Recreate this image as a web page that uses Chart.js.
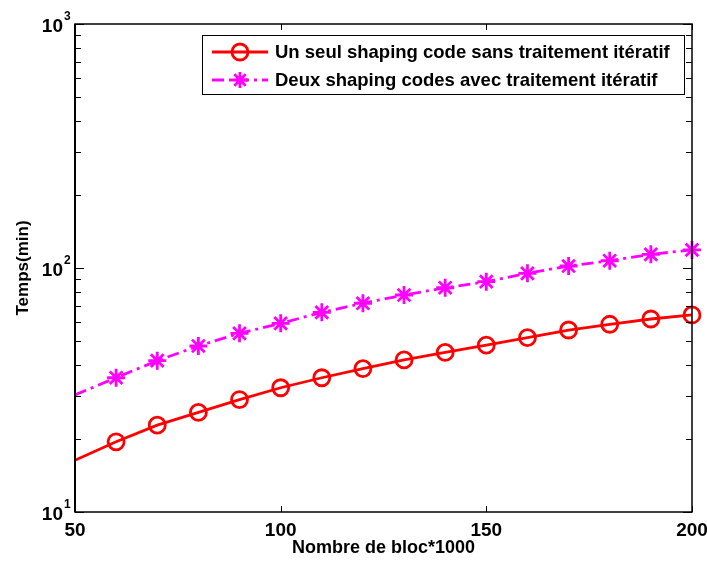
<!DOCTYPE html>
<html>
<head>
<meta charset="utf-8">
<script src="https://cdn.jsdelivr.net/npm/chart.js@4.4.0/dist/chart.umd.min.js"></script>
<style>
  html, body { margin: 0; padding: 0; background: #fff; }
  #wrap { width: 707px; height: 562px; }
</style>
</head>
<body>
<div id="wrap"><canvas id="chart" width="707" height="562"></canvas></div>
<script>
// Nombre de bloc (x1000)
const blocs = [50, 60, 70, 80, 90, 100, 110, 120, 130, 140, 150, 160, 170, 180, 190, 200];
// Temps (min)
const tempsSansIteratif = [16.3, 19.4, 22.7, 25.6, 28.9, 32.3, 35.5, 38.7, 42.0, 45.1, 48.3, 51.8, 55.7, 58.8, 61.8, 64.2];
const tempsAvecIteratif = [30.2, 35.5, 41.7, 47.9, 54.0, 59.3, 65.8, 71.7, 77.5, 83.0, 87.9, 95.1, 101.9, 107.1, 113.8, 118.6];

const xTicks = [50, 100, 150, 200];
const yMajor = [10, 100, 1000];
const yMinor = [20, 30, 40, 50, 60, 70, 80, 90, 200, 300, 400, 500, 600, 700, 800, 900];

const labels = [
  'Un seul shaping code sans traitement itératif',
  'Deux shaping codes avec traitement itératif'
];

const FONT = "'Liberation Sans', Arial, sans-serif";

function toPoints(xs, ys) {
  return xs.map((x, i) => ({ x: x, y: ys[i] }));
}

// axes "à la Matlab" : cadre, graduations intérieures, 10^n
const matlabAxes = {
  id: 'matlabAxes',
  afterDraw(chart) {
    const ctx = chart.ctx;
    const a = chart.chartArea;
    const x = chart.scales.x;
    const y = chart.scales.y;
    ctx.save();
    ctx.strokeStyle = '#000';
    ctx.lineWidth = 1.5;
    ctx.strokeRect(a.left, a.top, a.right - a.left, a.bottom - a.top);
    ctx.lineWidth = 2;
    ctx.beginPath();
    ctx.moveTo(a.left, a.top);
    ctx.lineTo(a.left, a.bottom);
    ctx.stroke();

    ctx.lineWidth = 1;
    ctx.beginPath();
    xTicks.forEach(v => {
      const px = Math.round(x.getPixelForValue(v)) + 0.5;
      ctx.moveTo(px, a.bottom); ctx.lineTo(px, a.bottom - 6);
      ctx.moveTo(px, a.top); ctx.lineTo(px, a.top + 6);
    });
    yMajor.forEach(v => {
      const py = Math.round(y.getPixelForValue(v)) + 0.5;
      ctx.moveTo(a.left, py); ctx.lineTo(a.left + 9, py);
      ctx.moveTo(a.right, py); ctx.lineTo(a.right - 9, py);
    });
    yMinor.forEach(v => {
      const py = Math.round(y.getPixelForValue(v)) + 0.5;
      ctx.moveTo(a.left, py); ctx.lineTo(a.left + 6, py);
      ctx.moveTo(a.right, py); ctx.lineTo(a.right - 6, py);
    });
    ctx.stroke();

    ctx.fillStyle = '#000';
    ctx.textBaseline = 'middle';
    yMajor.forEach(v => {
      const py = y.getPixelForValue(v);
      const exp = String(Math.round(Math.log10(v)));
      ctx.font = 'bold 19px ' + FONT;
      ctx.textAlign = 'right';
      ctx.fillText('10', a.left - 12, py + 3);
      ctx.font = 'bold 12px ' + FONT;
      ctx.textAlign = 'left';
      ctx.fillText(exp, a.left - 11, py - 7);
    });

    // légende
    const lw = 482, lh = 59;
    const lx = a.right - 8 - lw, ly = a.top + 11;
    ctx.fillStyle = '#fff';
    ctx.fillRect(lx, ly, lw, lh);
    ctx.lineWidth = 1;
    ctx.strokeStyle = '#000';
    ctx.strokeRect(lx + 0.5, ly + 0.5, lw, lh);
    chart.data.datasets.forEach((ds, i) => {
      const ry = ly + 17 + i * 28;
      ctx.save();
      ctx.strokeStyle = ds.borderColor;
      ctx.lineWidth = ds.borderWidth;
      ctx.setLineDash(ds.borderDash || []);
      ctx.beginPath();
      ctx.moveTo(lx + 10, ry);
      ctx.lineTo(lx + 66, ry);
      ctx.stroke();
      ctx.setLineDash([]);
      ctx.lineWidth = ds.pointBorderWidth;
      ctx.fillStyle = 'rgba(0,0,0,0)';
      Chart.helpers.drawPoint(ctx, {
        pointStyle: ds.pointStyle, radius: 8, borderWidth: ds.pointBorderWidth, rotation: 0
      }, lx + 38, ry);
      ctx.restore();
      ctx.fillStyle = '#000';
      ctx.font = 'bold 18.5px ' + FONT;
      ctx.textAlign = 'left';
      ctx.textBaseline = 'middle';
      ctx.fillText(ds.label, lx + 73, ry + 1);
    });
    ctx.restore();
  }
};

new Chart(document.getElementById('chart'), {
  type: 'line',
  data: {
    datasets: [
      {
        label: labels[0],
        data: toPoints(blocs, tempsSansIteratif),
        borderColor: '#ff0000',
        borderWidth: 2.8,
        pointStyle: 'circle',
        pointRadius: c => c.dataIndex === 0 ? 0 : 8,
        pointBorderWidth: 2.8,
        pointBorderColor: '#ff0000',
        pointBackgroundColor: 'rgba(0,0,0,0)',
        tension: 0,
        clip: false
      },
      {
        label: labels[1],
        data: toPoints(blocs, tempsAvecIteratif),
        borderColor: '#ff00ff',
        borderWidth: 2.8,
        borderDash: [12, 5, 3, 5],
        pointStyle: 'star',
        pointRadius: c => c.dataIndex === 0 ? 0 : 9,
        pointBorderWidth: 2.8,
        pointBorderColor: '#ff00ff',
        pointBackgroundColor: 'rgba(0,0,0,0)',
        tension: 0,
        clip: false
      }
    ]
  },
  options: {
    responsive: false,
    devicePixelRatio: 1,
    animation: false,
    events: [],
    layout: { padding: { left: 0, right: 15, top: 24, bottom: 0 } },
    plugins: {
      legend: { display: false },
      tooltip: { enabled: false }
    },
    scales: {
      x: {
        type: 'linear',
        min: 50,
        max: 200,
        grid: { display: false, drawTicks: false },
        border: { display: false },
        ticks: {
          stepSize: 50,
          padding: 7,
          color: '#000',
          font: { family: FONT, size: 19, weight: 'bold' }
        },
        title: {
          display: true,
          text: 'Nombre de bloc*1000',
          color: '#000',
          padding: { top: 0, bottom: 3 },
          font: { family: FONT, size: 18, weight: 'bold' }
        },
        afterFit: s => { s.height = 50; s.paddingLeft = 0; s.paddingRight = 0; }
      },
      y: {
        type: 'logarithmic',
        min: 10,
        max: 1000,
        grid: { display: false, drawTicks: false },
        border: { display: false },
        ticks: { display: false },
        title: {
          display: true,
          text: 'Temps(min)',
          color: '#000',
          padding: { top: 13, bottom: 0 },
          font: { family: FONT, size: 17, weight: 'bold' }
        },
        afterFit: s => { s.width = 75; s.paddingTop = 0; s.paddingBottom = 0; }
      }
    }
  },
  plugins: [matlabAxes]
});
</script>
</body>
</html>
